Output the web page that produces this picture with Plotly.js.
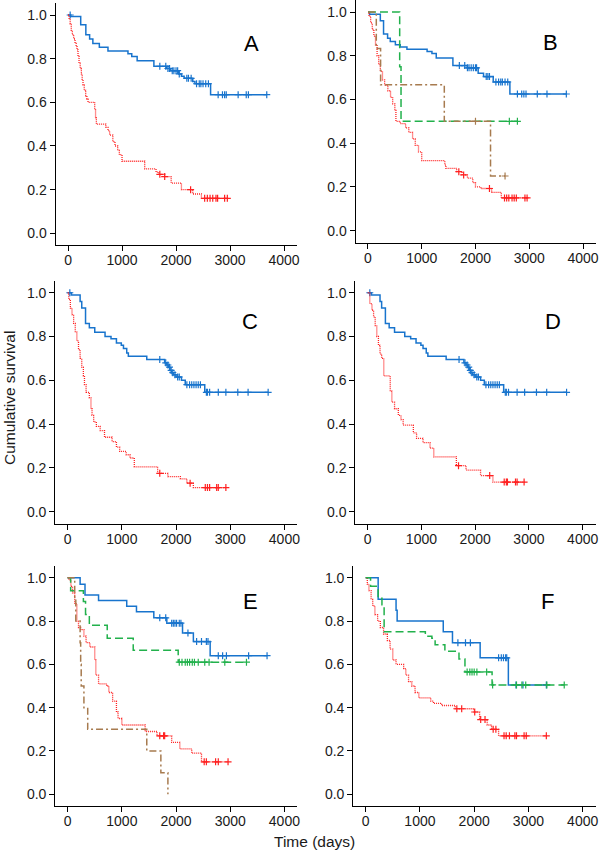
<!DOCTYPE html>
<html>
<head>
<meta charset="utf-8">
<script src="https://cdn.plot.ly/plotly-3.0.1.min.js"></script>
<style>html,body{margin:0;padding:0;background:#fff;}#chart{width:600px;height:851px;}</style>
</head>
<body>
<div id="chart"></div>
<script>
// ---------------- DATA ----------------
const xTicks = [0, 1000, 2000, 3000, 4000];
const yTicks = [0.0, 0.2, 0.4, 0.6, 0.8, 1.0];
const panelLetters = ["A", "B", "C", "D", "E", "F"];

// Panel A
const aBlueT = [0, 50, 235, 330, 400, 460, 580, 740, 1110, 1180, 1280, 1590, 1820, 1900, 2050, 2100, 2150, 2310, 2350, 2640];
const aBlueS = [1.0, 0.993, 0.955, 0.91, 0.89, 0.87, 0.852, 0.835, 0.823, 0.81, 0.79, 0.765, 0.755, 0.745, 0.73, 0.72, 0.71, 0.695, 0.685, 0.635];
const aBlueEnd = 3680;
const aBlueCens = [40, 1700, 1810, 1850, 1880, 1930, 1960, 2000, 2030, 2060, 2200, 2230, 2280, 2380, 2430, 2460, 2500, 2550, 2600, 2780, 2860, 2900, 2930, 3150, 3300, 3340, 3680];
const aRedT = [0, 20, 40, 60, 80, 105, 130, 150, 167, 185, 204, 225, 247, 262, 278, 300, 327, 350, 370, 494, 510, 525, 700, 740, 770, 830, 870, 920, 950, 1000, 1420, 1630, 1680, 1790, 1910, 2100, 2310, 2470];
const aRedS = [1.0, 0.98, 0.96, 0.93, 0.91, 0.89, 0.87, 0.855, 0.84, 0.81, 0.78, 0.755, 0.73, 0.705, 0.68, 0.655, 0.63, 0.615, 0.6, 0.565, 0.53, 0.5, 0.485, 0.47, 0.45, 0.42, 0.4, 0.38, 0.36, 0.33, 0.295, 0.28, 0.27, 0.26, 0.23, 0.2, 0.18, 0.16];
const aRedEnd = 2950;
const aRedCens = [1700, 1790, 2270, 2530, 2580, 2630, 2680, 2740, 2770, 2900, 2950];

// Panel B
const bBlueT = [0, 30, 230, 290, 365, 415, 510, 600, 725, 1100, 1190, 1270, 1580, 1850, 2050, 2150, 2330, 2640];
const bBlueS = [1.0, 0.99, 0.96, 0.9, 0.88, 0.865, 0.85, 0.84, 0.83, 0.82, 0.81, 0.79, 0.755, 0.745, 0.72, 0.705, 0.68, 0.625];
const bBlueEnd = 3690;
const bBlueCens = [1700, 1800, 1850, 1880, 1920, 1960, 2000, 2020, 2200, 2230, 2260, 2380, 2430, 2470, 2500, 2550, 2600, 2780, 2860, 2900, 2940, 3150, 3330, 3690];
const bGreenT = [0, 590, 615];
const bGreenS = [1.0, 0.75, 0.5];
const bGreenEnd = 2780;
const bGreenCens = [2630, 2780];
const bBrownT = [0, 155, 235, 1420, 2280];
const bBrownS = [1.0, 0.833, 0.667, 0.5, 0.25];
const bBrownEnd = 2550;
const bBrownCens = [2000, 2550];
const bRedT = [0, 20, 50, 80, 110, 140, 170, 200, 230, 270, 310, 370, 420, 460, 500, 520, 600, 700, 760, 830, 880, 940, 1000, 1430, 1450, 1650, 1750, 1850, 1950, 2000, 2100, 2300, 2480];
const bRedS = [1.0, 0.98, 0.95, 0.92, 0.89, 0.85, 0.8, 0.76, 0.73, 0.69, 0.665, 0.64, 0.61, 0.58, 0.55, 0.5, 0.49, 0.47, 0.45, 0.42, 0.39, 0.36, 0.32, 0.30, 0.285, 0.27, 0.255, 0.24, 0.22, 0.2, 0.193, 0.175, 0.15];
const bRedEnd = 2960;
const bRedCens = [1690, 1780, 2260, 2540, 2580, 2620, 2680, 2720, 2760, 2920, 2960];

// Panel C
const cBlueT = [0, 70, 230, 260, 330, 400, 500, 690, 800, 900, 990, 1030, 1090, 1120, 1460, 1790, 1830, 1860, 1890, 1920, 1950, 2000, 2100, 2170, 2530];
const cBlueS = [1.0, 0.99, 0.96, 0.93, 0.86, 0.84, 0.82, 0.80, 0.79, 0.77, 0.76, 0.745, 0.725, 0.71, 0.695, 0.68, 0.67, 0.66, 0.645, 0.635, 0.625, 0.615, 0.6, 0.58, 0.545];
const cBlueEnd = 3700;
const cBlueCens = [40, 1700, 1810, 1850, 1880, 1910, 1940, 1980, 2030, 2060, 2200, 2250, 2290, 2330, 2370, 2410, 2450, 2560, 2580, 2620, 2780, 2920, 3140, 3330, 3700];
const cRedT = [0, 20, 50, 80, 110, 140, 170, 200, 230, 260, 290, 310, 340, 400, 430, 450, 480, 530, 600, 680, 820, 900, 960, 1080, 1150, 1230, 1660, 1850, 2080, 2200, 2320];
const cRedS = [1.0, 0.97, 0.93, 0.9, 0.86, 0.82, 0.78, 0.74, 0.7, 0.66, 0.62, 0.58, 0.545, 0.52, 0.47, 0.44, 0.41, 0.39, 0.37, 0.34, 0.32, 0.295, 0.275, 0.26, 0.245, 0.205, 0.175, 0.16, 0.15, 0.13, 0.11];
const cRedEnd = 2920;
const cRedCens = [1700, 2260, 2540, 2580, 2620, 2750, 2780, 2920];

// Panel D
const dBlueT = [0, 70, 230, 260, 330, 400, 500, 690, 800, 900, 990, 1030, 1090, 1120, 1460, 1790, 1830, 1860, 1890, 1920, 1950, 2000, 2100, 2170, 2530];
const dBlueS = [1.0, 0.99, 0.96, 0.93, 0.86, 0.84, 0.82, 0.80, 0.79, 0.77, 0.76, 0.745, 0.725, 0.71, 0.695, 0.68, 0.67, 0.66, 0.645, 0.635, 0.625, 0.615, 0.6, 0.58, 0.545];
const dBlueEnd = 3700;
const dBlueCens = [40, 1700, 1810, 1850, 1880, 1910, 1940, 1980, 2030, 2060, 2200, 2250, 2290, 2330, 2370, 2410, 2450, 2560, 2580, 2620, 2780, 2920, 3140, 3330, 3700];
const dRedT = [0, 40, 80, 110, 140, 170, 200, 230, 260, 300, 420, 450, 500, 570, 620, 660, 850, 910, 1030, 1160, 1230, 1650, 1830, 2100, 2330];
const dRedS = [1.0, 0.95, 0.92, 0.89, 0.85, 0.8, 0.76, 0.72, 0.70, 0.62, 0.55, 0.5, 0.47, 0.44, 0.42, 0.395, 0.36, 0.335, 0.315, 0.29, 0.25, 0.21, 0.19, 0.165, 0.135];
const dRedEnd = 2920;
const dRedCens = [1690, 2270, 2540, 2580, 2600, 2750, 2780, 2910];

// Panel E
const eBlueT = [0, 230, 320, 570, 1090, 1270, 1590, 1830, 2120, 2320, 2630];
const eBlueS = [1.0, 0.97, 0.92, 0.895, 0.868, 0.843, 0.815, 0.79, 0.745, 0.705, 0.64];
const eBlueEnd = 3680;
const eBlueCens = [1700, 1810, 1920, 1950, 1980, 2010, 2060, 2090, 2220, 2380, 2470, 2560, 2590, 2780, 2860, 2930, 3340, 3680];
const eGreenT = [0, 55, 290, 330, 400, 730, 1210, 2040];
const eGreenS = [1.0, 0.94, 0.89, 0.83, 0.78, 0.72, 0.665, 0.61];
const eGreenEnd = 3300;
const eGreenCens = [2060, 2110, 2170, 2210, 2250, 2300, 2340, 2410, 2530, 2610, 2900, 3300];
const eBrownT = [0, 130, 150, 230, 240, 250, 300, 370, 1460, 1720, 1850];
const eBrownS = [1.0, 0.9, 0.8, 0.7, 0.6, 0.5, 0.4, 0.3, 0.2, 0.1, 0.0];
const eBrownEnd = 1850;
const eBrownCens = [];
const eRedT = [0, 20, 60, 90, 130, 170, 200, 240, 300, 340, 410, 500, 520, 570, 720, 760, 830, 900, 930, 1000, 1430, 1650, 1920, 2070, 2290, 2470];
const eRedS = [1.0, 0.99, 0.96, 0.93, 0.88, 0.8, 0.77, 0.76, 0.73, 0.7, 0.68, 0.62, 0.55, 0.51, 0.5, 0.47, 0.43, 0.38, 0.35, 0.32, 0.29, 0.27, 0.24, 0.21, 0.19, 0.15];
const eRedEnd = 2960;
const eRedCens = [1700, 1770, 1790, 2520, 2560, 2730, 2780, 2960];

// Panel F
const fBlueT = [0, 230, 560, 580, 1430, 1600, 2110, 2630];
const fBlueS = [1.0, 0.9, 0.85, 0.8, 0.75, 0.7, 0.63, 0.505];
const fBlueEnd = 3330;
const fBlueCens = [1700, 1840, 1930, 2450, 2500, 2540, 2580, 2600, 2770, 2900, 3330];
const fGreenT = [0, 90, 230, 300, 340, 1100, 1220, 1280, 1460, 1720, 1830, 2330];
const fGreenS = [1.0, 0.96, 0.905, 0.875, 0.75, 0.73, 0.72, 0.69, 0.66, 0.625, 0.565, 0.505];
const fGreenEnd = 3660;
const fGreenCens = [1870, 1920, 1960, 2000, 2050, 2230, 2340, 2780, 2880, 2950, 3340, 3660];
const fRedT = [0, 30, 60, 100, 130, 170, 220, 270, 330, 400, 450, 500, 560, 700, 740, 790, 850, 910, 980, 1200, 1250, 1400, 1650, 2000, 2100, 2240, 2320, 2450];
const fRedS = [1.0, 0.97, 0.94, 0.9, 0.87, 0.83, 0.8, 0.77, 0.74, 0.71, 0.67, 0.62, 0.6, 0.58, 0.55, 0.52, 0.5, 0.47, 0.445, 0.43, 0.42, 0.41, 0.395, 0.38, 0.345, 0.32, 0.3, 0.27];
const fRedEnd = 3330;
const fRedCens = [1680, 1770, 2010, 2120, 2200, 2350, 2400, 2550, 2590, 2650, 2750, 2780, 2920, 2960, 3330];

// ---------------- STYLES ----------------
const FONT = "Liberation Sans, Arial, Helvetica, sans-serif";
const STY = {
  blue:  {color: "#1874CD", dash: "solid", width: 1.5},
  red:   {color: "#FF2020", dash: "1px,1px", width: 1.3},
  green: {color: "#22B14C", dash: "8px,4px", width: 1.5},
  brown: {color: "#A77B4F", dash: "7px,3px,2px,3px", width: 1.5}
};

function survAt(T, S, t) {
  let v = S[0];
  for (let i = 0; i < T.length; i++) { if (T[i] <= t) v = S[i]; }
  return v;
}
function km(T, S, end, cens, sty, n) {
  const xa = n === 1 ? "x" : "x" + n, ya = n === 1 ? "y" : "y" + n;
  const line = {
    x: T.concat([end]), y: S.concat([S[S.length - 1]]),
    type: "scatter", mode: "lines", xaxis: xa, yaxis: ya, showlegend: false, hoverinfo: "skip",
    line: {color: sty.color, dash: sty.dash, width: sty.width, shape: "hv"}
  };
  const marks = {
    x: cens, y: cens.map(t => survAt(T, S, t)),
    type: "scatter", mode: "markers", xaxis: xa, yaxis: ya, showlegend: false, hoverinfo: "skip",
    marker: {symbol: "cross-thin-open", size: 5, color: sty.color, line: {color: sty.color, width: 1.2}}
  };
  return [line, marks];
}

const traces = [].concat(
  km(aBlueT, aBlueS, aBlueEnd, aBlueCens, STY.blue, 1),
  km(aRedT, aRedS, aRedEnd, aRedCens, STY.red, 1),
  km(bBlueT, bBlueS, bBlueEnd, bBlueCens, STY.blue, 2),
  km(bRedT, bRedS, bRedEnd, bRedCens, STY.red, 2),
  km(bGreenT, bGreenS, bGreenEnd, bGreenCens, STY.green, 2),
  km(bBrownT, bBrownS, bBrownEnd, bBrownCens, STY.brown, 2),
  km(cBlueT, cBlueS, cBlueEnd, cBlueCens, STY.blue, 3),
  km(cRedT, cRedS, cRedEnd, cRedCens, STY.red, 3),
  km(dBlueT, dBlueS, dBlueEnd, dBlueCens, STY.blue, 4),
  km(dRedT, dRedS, dRedEnd, dRedCens, STY.red, 4),
  km(eBlueT, eBlueS, eBlueEnd, eBlueCens, STY.blue, 5),
  km(eRedT, eRedS, eRedEnd, eRedCens, STY.red, 5),
  km(eGreenT, eGreenS, eGreenEnd, eGreenCens, STY.green, 5),
  km(eBrownT, eBrownS, eBrownEnd, eBrownCens, STY.brown, 5),
  km(fBlueT, fBlueS, fBlueEnd, fBlueCens, STY.blue, 6),
  km(fRedT, fRedS, fRedEnd, fRedCens, STY.red, 6),
  km(fGreenT, fGreenS, fGreenEnd, fGreenCens, STY.green, 6)
);

// ---------------- LAYOUT ----------------
const W = 600, H = 851;
// panel pixel boxes [left, right, top, bottom]
const boxes = [
  [55.6, 297.0, 3.0, 245.3],
  [355.6, 595.9, 0.0, 242.7],
  [55.2, 297.4, 280.7, 523.7],
  [355.3, 595.6, 280.7, 523.7],
  [55.2, 297.4, 565.8, 806.2],
  [353.2, 595.7, 565.8, 806.2]
];
const letterPos = [[3400, 0.87], [3390, 0.86], [3370, 0.87], [3440, 0.87], [3370, 0.89], [3350, 0.89]];

const layout = {
  width: W, height: H,
  margin: {l: 0, r: 0, t: 0, b: 0},
  paper_bgcolor: "#ffffff", plot_bgcolor: "#ffffff",
  font: {family: FONT, size: 14, color: "#1a1a1a"},
  showlegend: false,
  annotations: []
};
boxes.forEach((b, i) => {
  const n = i + 1;
  const xk = n === 1 ? "xaxis" : "xaxis" + n;
  const yk = n === 1 ? "yaxis" : "yaxis" + n;
  const common = {
    showline: true, linecolor: "#000", linewidth: 1, mirror: false,
    ticks: "outside", ticklen: 5, tickwidth: 1, tickcolor: "#000",
    showgrid: false, zeroline: false, fixedrange: true,
    tickfont: {family: FONT, size: 14, color: "#1a1a1a"}
  };
  layout[xk] = Object.assign({}, common, {
    domain: [b[0] / W, b[1] / W], range: [-230, 4240],
    anchor: n === 1 ? "y" : "y" + n,
    ticklabelstandoff: -3,
    tickmode: "array", tickvals: xTicks, ticktext: xTicks.map(String)
  });
  layout[yk] = Object.assign({}, common, {
    domain: [1 - b[3] / H, 1 - b[2] / H], range: [-0.055, 1.055],
    anchor: n === 1 ? "x" : "x" + n,
    tickmode: "array", tickvals: yTicks, ticktext: yTicks.map(v => v.toFixed(1))
  });
  layout.annotations.push({
    text: panelLetters[i], x: letterPos[i][0], y: letterPos[i][1],
    xref: n === 1 ? "x" : "x" + n, yref: n === 1 ? "y" : "y" + n,
    showarrow: false, font: {family: FONT, size: 22, color: "#000"},
    xanchor: "center", yanchor: "middle"
  });
});
layout.annotations.push({
  text: "Cumulative survival", xref: "paper", yref: "paper",
  x: 9 / W, y: 1 - 398 / H, textangle: -90, showarrow: false,
  font: {family: FONT, size: 15.5, color: "#1a1a1a"}, xanchor: "center", yanchor: "middle"
});
layout.annotations.push({
  text: "Time (days)", xref: "paper", yref: "paper",
  x: 314 / W, y: 1 - 841 / H, showarrow: false,
  font: {family: FONT, size: 15.5, color: "#1a1a1a"}, xanchor: "center", yanchor: "middle"
});

Plotly.newPlot("chart", traces, layout, {staticPlot: true, displayModeBar: false});
</script>
</body>
</html>
